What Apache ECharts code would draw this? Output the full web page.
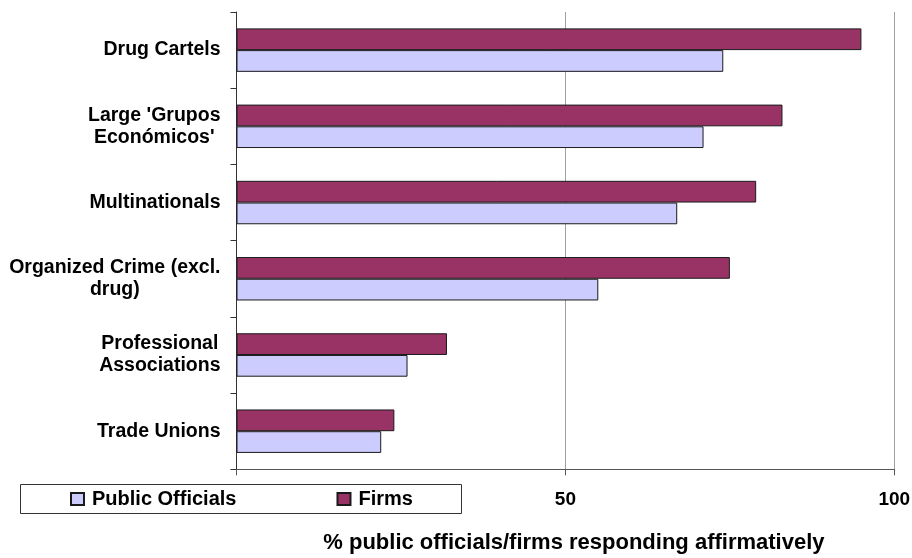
<!DOCTYPE html>
<html>
<head>
<meta charset="utf-8">
<script src="https://cdn.jsdelivr.net/npm/echarts@6/dist/echarts.min.js"></script>
<style>
  html, body { margin: 0; padding: 0; background: #fff; }
  #chart { width: 912px; height: 558px; }
</style>
</head>
<body>
<div id="chart"></div>
<script>
const categories = [
  "Drug Cartels",
  "Large 'Grupos\nEconómicos'",
  "Multinationals",
  "Organized Crime (excl.\ndrug)",
  "Professional\nAssociations",
  "Trade Unions"
];
const firms = [95, 83, 79, 75, 32, 24];
const publicOfficials = [74, 71, 67, 55, 26, 22];
const xTicks = [0, 50, 100];
const axisTitle = "% public officials/firms responding affirmatively";

const font = "Liberation Sans, Arial, Helvetica, sans-serif";
const chart = echarts.init(document.getElementById('chart'), null, { renderer: 'canvas' });

chart.setOption({
  animation: false,
  backgroundColor: '#ffffff',
  grid: { left: 236.5, right: 17.7, top: 12, bottom: 88.7, containLabel: false, outerBoundsMode: 'none' },
  legend: {
    data: ['Public Officials', 'Firms'],
    left: 65, top: 484,
    itemWidth: 13, itemHeight: 12, itemGap: 100,
    icon: 'rect',
    textStyle: { fontFamily: font, fontWeight: 'bold', fontSize: 20, color: '#000', padding: [0, 0, 0, 3] },
    selectedMode: false
  },
  xAxis: {
    type: 'value',
    min: xTicks[0], max: xTicks[xTicks.length - 1], interval: 50,
    axisLine: { show: true, lineStyle: { color: '#555', width: 1 } },
    axisTick: { show: true, length: 6, lineStyle: { color: '#555' } },
    splitLine: { show: true, lineStyle: { color: '#a0a0a0', width: 1 } },
    axisLabel: {
      margin: 21,
      fontFamily: font, fontWeight: 'bold', fontSize: 19, color: '#000',
      formatter: v => (v === 0 ? '' : String(v))
    },
    name: axisTitle,
    nameLocation: 'middle',
    nameGap: 63,
    nameTextStyle: { fontFamily: font, fontWeight: 'bold', fontSize: 22, color: '#000', padding: [0, 0, 0, 17] }
  },
  yAxis: {
    type: 'category',
    data: categories,
    inverse: true,
    axisLine: { show: true, lineStyle: { color: '#333', width: 1 } },
    axisTick: { show: true, length: 6, lineStyle: { color: '#333' } },
    axisLabel: {
      margin: 16,
      fontFamily: font, fontWeight: 'bold', fontSize: 19.5, color: '#000',
      lineHeight: 22,
      formatter: v => v.split('\n').map(l => '{c|' + l + '}').join('\n'),
      rich: {
        c: { align: 'center', fontFamily: font, fontWeight: 'bold', fontSize: 19.5, color: '#000', lineHeight: 22 }
      }
    }
  },
  graphic: [{
    type: 'rect',
    z: -1,
    shape: { x: 20.5, y: 484.5, width: 441, height: 29 },
    style: { fill: '#fff', stroke: '#333', lineWidth: 1 }
  }],
  series: [
    {
      name: 'Firms', type: 'bar', data: firms,
      barGap: '0%', barCategoryGap: '43%',
      itemStyle: { color: '#993366', borderColor: '#1a1a1a', borderWidth: 1 }
    },
    {
      name: 'Public Officials', type: 'bar', data: publicOfficials,
      barGap: '0%', barCategoryGap: '43%',
      itemStyle: { color: '#ccccff', borderColor: '#1a1a1a', borderWidth: 1 }
    }
  ]
});
</script>
</body>
</html>
